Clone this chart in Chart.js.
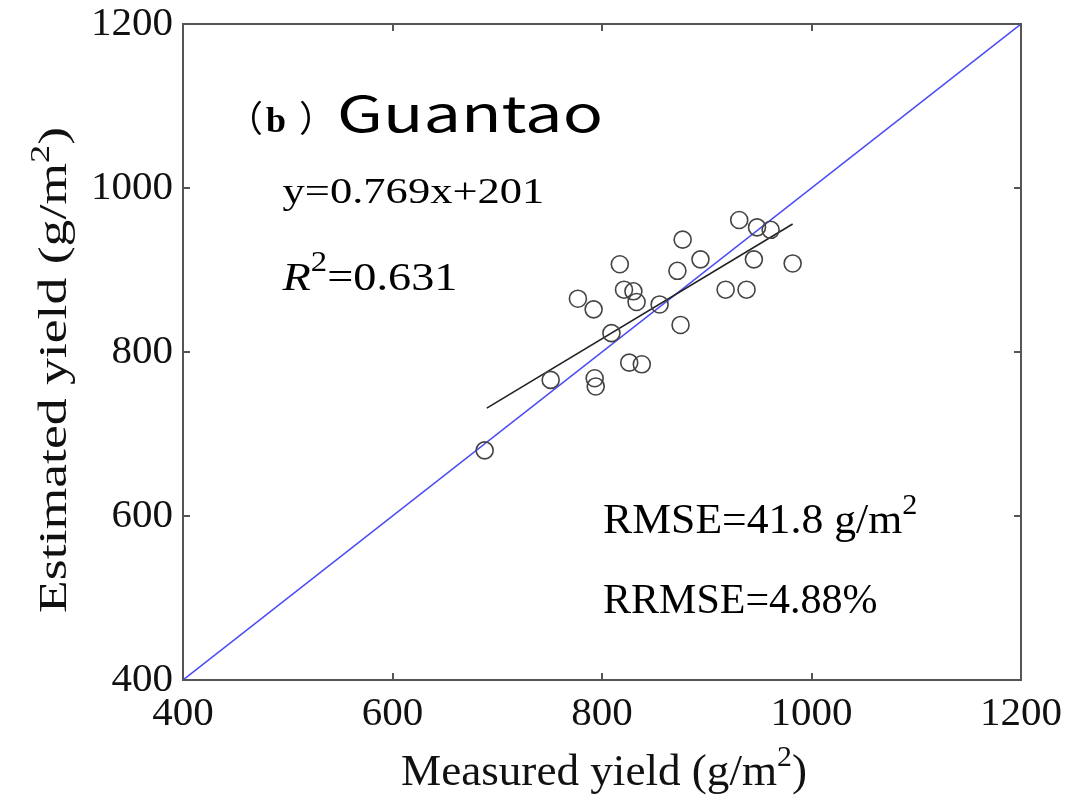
<!DOCTYPE html>
<html>
<head>
<meta charset="utf-8">
<title>Guantao</title>
<script src="https://cdn.jsdelivr.net/npm/chart.js@4/dist/chart.umd.min.js"></script>
<style>
  body { margin: 0; background: #ffffff; }
  canvas { display: block; }
</style>
</head>
<body>
<canvas id="grafica" width="1071" height="802"></canvas>
<script>
// Rendimiento medido vs estimado (g/m2) en Guantao
const medido   = [931, 948, 961, 877, 894, 945, 982, 817, 872, 821, 830, 833, 777, 792, 918, 938, 855, 875, 809, 826, 838, 793, 794, 751, 688];
const estimado = [961, 952, 949, 937, 913, 913, 908, 907, 899, 876, 874, 861, 865, 852, 876, 876, 858, 833, 823, 787, 785, 768, 758, 766, 680];

// recta de ajuste y = 0.769x + 201
const pendiente = 0.769;
const intercepto = 201;
const rangoAjuste = [690, 982];

const limites = [400, 1200];
const ticksEje = [400, 600, 800, 1000, 1200];

const SERIF = '"Liberation Serif", "Times New Roman", serif';
const CJK = '"Noto Sans CJK SC", "Noto Sans", sans-serif';

const puntos = medido.map((m, i) => ({ x: m, y: estimado[i] }));
const lineaAjuste = rangoAjuste.map(x => ({ x: x, y: pendiente * x + intercepto }));
const lineaUnoAUno = limites.map(v => ({ x: v, y: v }));

// textos dentro de la grafica, anclados en unidades de los ejes
// (x = borde izquierdo, y = linea base, ancho = ancho final en unidades de x)
// "sep" = espacio extra en pixeles despues de una parte
const anotaciones = [
  { x: 442, y: 1068, partes: [
      { t: '（', f: '36px ' + CJK, sep: 3 },
      { t: 'b', f: 'bold 36px ' + SERIF, sep: 13 },
      { t: '）', f: '36px ' + CJK }
  ] },
  { x: 547, y: 1068, ancho: 254, partes: [{ t: 'Guantao', f: '49px ' + CJK }] },
  { x: 495, y: 982, ancho: 250, partes: [{ t: 'y=0.769x+201', f: '35px ' + SERIF }] },
  { x: 495, y: 876, ancho: 167, partes: [
      { t: 'R', f: 'italic 41px ' + SERIF },
      { t: '2', f: '29px ' + SERIF, sube: 19 },
      { t: '=0.631', f: '41px ' + SERIF }
  ] },
  { x: 801, y: 579, ancho: 300, partes: [
      { t: 'RMSE=41.8 g/m', f: '42px ' + SERIF },
      { t: '2', f: '29px ' + SERIF, sube: 19 }
  ] },
  { x: 801, y: 482, partes: [{ t: 'RRMSE=4.88%', f: '42px ' + SERIF }] }
];

function anchoPartes(ctx, partes) {
  let w = 0;
  partes.forEach(p => { ctx.font = p.f; w += ctx.measureText(p.t).width + (p.sep || 0); });
  return w;
}

function dibujarPartes(ctx, partes, x, y) {
  let cx = x;
  partes.forEach(p => {
    ctx.font = p.f;
    ctx.fillText(p.t, cx, y - (p.sube || 0));
    cx += ctx.measureText(p.t).width + (p.sep || 0);
  });
}

// dibuja un texto centrado en (cx, base) estirado hasta "largo" pixeles
function dibujarTitulo(ctx, partes, cx, base, largo, angulo) {
  const natural = anchoPartes(ctx, partes);
  ctx.save();
  ctx.translate(cx, base);
  ctx.rotate(angulo);
  ctx.scale(largo / natural, 1);
  dibujarPartes(ctx, partes, -natural / 2, 0);
  ctx.restore();
}

// marco, ticks hacia adentro, titulos de ejes y textos
const marcoYTextos = {
  id: 'marcoYTextos',
  afterDraw(chart) {
    const ctx = chart.ctx;
    const a = chart.chartArea;
    const sx = chart.scales.x, sy = chart.scales.y;
    ctx.save();

    ctx.strokeStyle = '#555';
    ctx.lineWidth = 2;
    ctx.strokeRect(a.left, a.top, a.right - a.left, a.bottom - a.top);

    const largo = 7;
    ctx.beginPath();
    ticksEje.slice(1, -1).forEach(v => {
      const px = Math.round(sx.getPixelForValue(v));
      const py = Math.round(sy.getPixelForValue(v));
      ctx.moveTo(px, a.bottom); ctx.lineTo(px, a.bottom - largo);
      ctx.moveTo(px, a.top); ctx.lineTo(px, a.top + largo);
      ctx.moveTo(a.left, py); ctx.lineTo(a.left + largo, py);
      ctx.moveTo(a.right, py); ctx.lineTo(a.right - largo, py);
    });
    ctx.stroke();

    ctx.fillStyle = '#111';
    ctx.textBaseline = 'alphabetic';
    ctx.textAlign = 'left';

    // titulos de los ejes
    const tituloX = [
      { t: 'Measured yield (g/m', f: '44px ' + SERIF },
      { t: '2', f: '29px ' + SERIF, sube: 19 },
      { t: ')', f: '44px ' + SERIF }
    ];
    dibujarTitulo(ctx, tituloX, (a.left + a.right) / 2 + 2, a.bottom + 105, 406, 0);

    const tituloY = [
      { t: 'Estimated yield (g/m', f: '40px ' + SERIF },
      { t: '2', f: '27px ' + SERIF, sube: 17 },
      { t: ')', f: '40px ' + SERIF }
    ];
    dibujarTitulo(ctx, tituloY, 66, a.top + 346, 486, -Math.PI / 2);

    // anotaciones
    ctx.fillStyle = '#000';
    anotaciones.forEach(an => {
      const x0 = sx.getPixelForValue(an.x);
      const y0 = sy.getPixelForValue(an.y);
      const natural = anchoPartes(ctx, an.partes);
      let escala = 1;
      if (an.ancho) {
        escala = (sx.getPixelForValue(an.x + an.ancho) - x0) / natural;
      }
      ctx.save();
      ctx.translate(x0, y0);
      ctx.scale(escala, 1);
      dibujarPartes(ctx, an.partes, 0, 0);
      ctx.restore();
    });

    ctx.restore();
  }
};

const ctx = document.getElementById('grafica').getContext('2d');
const grafica = new Chart(ctx, {
  type: 'scatter',
  data: {
    datasets: [
      {
        label: '1:1',
        type: 'line',
        data: lineaUnoAUno,
        borderColor: '#4b4bf5',
        borderWidth: 1.5,
        pointRadius: 0,
        fill: false,
        order: 3
      },
      {
        label: 'Ajuste',
        type: 'line',
        data: lineaAjuste,
        borderColor: '#222',
        borderWidth: 1.6,
        pointRadius: 0,
        fill: false,
        order: 2
      },
      {
        label: 'Datos',
        data: puntos,
        pointStyle: 'circle',
        pointRadius: 8.5,
        pointBorderWidth: 1.6,
        pointBorderColor: '#444',
        pointBackgroundColor: 'rgba(0,0,0,0)',
        order: 1
      }
    ]
  },
  options: {
    responsive: false,
    animation: false,
    layout: { padding: { left: 0, top: 24, right: 50, bottom: 0 } },
    plugins: {
      legend: { display: false },
      tooltip: { enabled: false }
    },
    scales: {
      x: {
        type: 'linear',
        min: limites[0],
        max: limites[1],
        afterFit: s => { s.height = 122; s.paddingLeft = 0; s.paddingRight = 0; },
        grid: { display: false, drawTicks: false },
        border: { display: false },
        ticks: {
          stepSize: 200,
          padding: 14,
          color: '#111',
          font: { family: SERIF, size: 41, lineHeight: 1 },
          callback: v => String(v)
        }
      },
      y: {
        type: 'linear',
        min: limites[0],
        max: limites[1],
        afterFit: s => { s.width = 183; s.paddingTop = 0; s.paddingBottom = 0; },
        grid: { display: false, drawTicks: false },
        border: { display: false },
        ticks: {
          stepSize: 200,
          padding: 10,
          color: '#111',
          font: { family: SERIF, size: 41, lineHeight: 1 },
          callback: v => String(v)
        }
      }
    }
  },
  plugins: [marcoYTextos]
});
</script>
</body>
</html>
